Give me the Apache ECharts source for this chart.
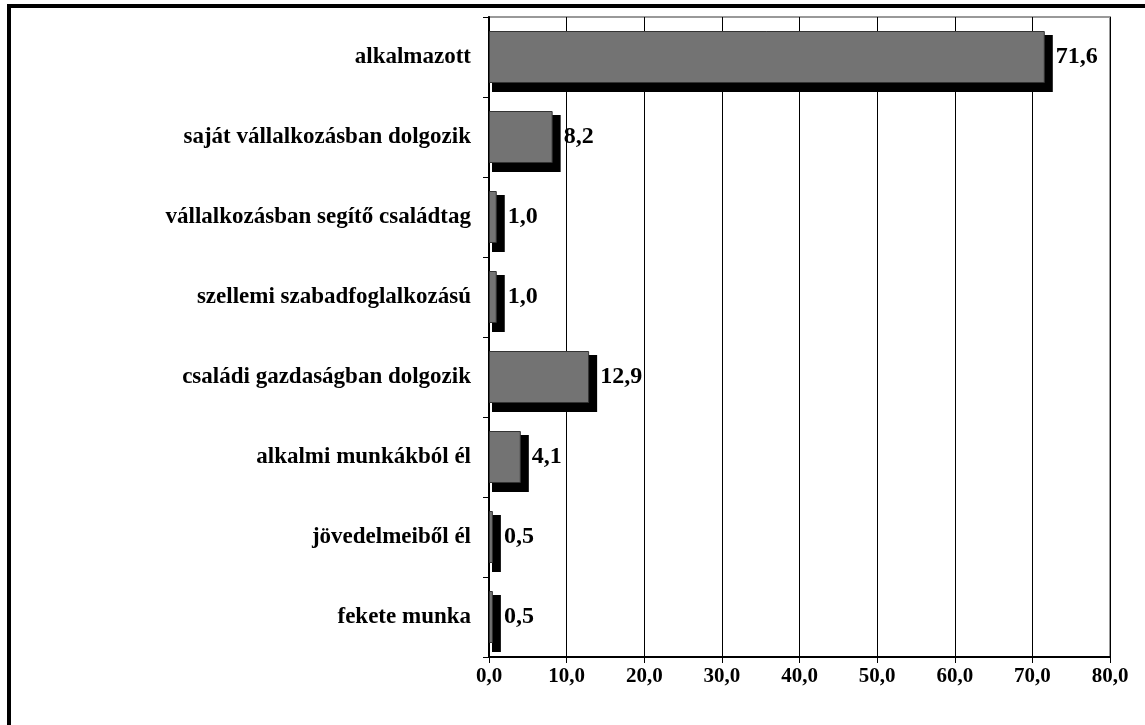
<!DOCTYPE html>
<html><head><meta charset="utf-8">
<script src="https://cdn.jsdelivr.net/npm/echarts@6/dist/echarts.min.js"></script>
<style>html,body{margin:0;padding:0;background:#fff}#c{width:1145px;height:725px}</style>
</head><body><div id="c"></div>
<script>
const categories = ["alkalmazott","saját vállalkozásban dolgozik","vállalkozásban segítő családtag","szellemi szabadfoglalkozású","családi gazdaságban dolgozik","alkalmi munkákból él","jövedelmeiből él","fekete munka"];
const values = [71.6, 8.2, 1.0, 1.0, 12.9, 4.1, 0.5, 0.5];
const xTicks = [0,10,20,30,40,50,60,70,80];
const fmt = v => v.toFixed(1).replace('.', ',');
const font = '"Liberation Serif","Times New Roman",serif';
const BAR_FRAC = 0.65;
const chart = echarts.init(document.getElementById('c'), null, {renderer:'canvas'});
chart.setOption({
  animation:false,
  backgroundColor:'#fff',
  grid:{left:489, right:35, top:17, bottom:68, show:true, borderColor:'#999', borderWidth:2, backgroundColor:'transparent'},
  xAxis:{type:'value', min:xTicks[0], max:xTicks[xTicks.length-1], interval:10,
    axisLine:{show:true, onZero:false, lineStyle:{color:'#000', width:2}},
    axisTick:{show:true, length:6, lineStyle:{color:'#000', width:1}},
    splitLine:{show:true, lineStyle:{color:'#000', width:1}},
    axisLabel:{formatter:fmt, fontFamily:font, fontWeight:'bold', fontSize:21, color:'#000', margin:9}},
  yAxis:{type:'category', data:categories, inverse:true,
    axisLine:{show:true, lineStyle:{color:'#000', width:2}},
    axisTick:{show:true, length:6, lineStyle:{color:'#000', width:1}},
    axisLabel:{fontFamily:font, fontWeight:'bold', fontSize:23, color:'#000', margin:18}},
  series:[
    {type:'custom', z:2, data:values.map((v,i)=>[v,i]), encode:{x:0,y:1}, silent:true,
      renderItem:function(params, api){
        const v = api.value(0), idx = api.value(1);
        const p0 = api.coord([0, idx]), p1 = api.coord([v, idx]);
        const h = api.size([0,1])[1]*BAR_FRAC;
        return {type:'rect', shape:{x:p0[0]+3, y:p0[1]-h/2+4, width:(p1[0]-p0[0])+5, height:h+5},
          style:{fill:'#000'}};
      }},
    {type:'bar', z:3, data:values, barWidth:(BAR_FRAC*100)+'%',
      itemStyle:{color:'#737373', borderColor:'#333', borderWidth:1},
      label:{show:true, position:'right', distance:11, formatter:p=>fmt(p.value),
        fontFamily:font, fontWeight:'bold', fontSize:24, color:'#000'}}
  ],
  graphic:[{type:'rect', shape:{x:9, y:6, width:1160, height:740}, style:{fill:'none', stroke:'#000', lineWidth:4}, z:100}]
});
</script></body></html>
